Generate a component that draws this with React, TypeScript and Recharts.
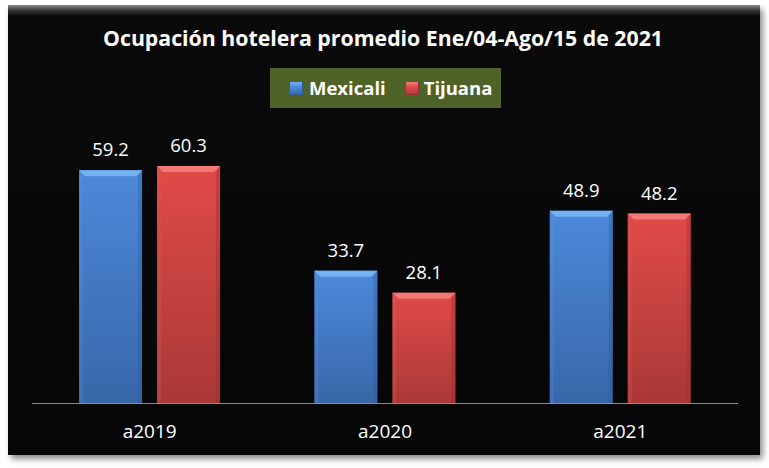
import React from 'react';
import { BarChart, Bar, XAxis, YAxis, Legend, LabelList, Customized } from 'recharts';

const categories = ['a2019', 'a2020', 'a2021'];
const mexicali = [59.2, 33.7, 48.9];
const tijuana = [60.3, 28.1, 48.2];
const seriesNames = ['Mexicali', 'Tijuana'];
const titleText = 'Ocupación hotelera promedio Ene/04-Ago/15 de 2021';

const data = categories.map((c, i) => ({ name: c, Mexicali: mexicali[i], Tijuana: tijuana[i] }));

const palette: Record<string, { top: string; bottom: string; bevel: string; left: string; right: string }> = {
  Mexicali: { top: '#4d89da', bottom: '#3767a8', bevel: '#74b2f4', left: '#5b98e4', right: '#2e5a96' },
  Tijuana: { top: '#e04a48', bottom: '#a93937', bevel: '#f27a76', left: '#e65c5a', right: '#8f2f2e' },
};

const makeShape = (key: string) => (props: any) => {
  const { x, y, width, height, index } = props;
  if (!width || !height) return null;
  const c = palette[key];
  const b = 6;
  const id = `g-${key}-${index}`;
  return (
    <g>
      <defs>
        <linearGradient id={id} x1="0" y1="0" x2="0" y2="1">
          <stop offset="0%" stopColor={c.top} />
          <stop offset="100%" stopColor={c.bottom} />
        </linearGradient>
      </defs>
      <rect x={x} y={y} width={width} height={height} fill={`url(#${id})`} />
      <polygon points={`${x},${y} ${x + 4},${y + b} ${x + 4},${y + height} ${x},${y + height}`} fill={c.left} opacity={0.25} />
      <polygon points={`${x + width},${y} ${x + width - 4},${y + b} ${x + width - 4},${y + height} ${x + width},${y + height}`} fill={c.right} opacity={0.35} />
      <polygon points={`${x},${y} ${x + width},${y} ${x + width - b},${y + b} ${x + b},${y + b}`} fill={c.bevel} />
    </g>
  );
};

const valueLabel = (props: any) => {
  const { x, y, width, value } = props;
  return (
    <text x={Number(x) + Number(width) / 2} y={Number(y) - 14} fill="#ffffff" fontSize={18.5} textAnchor="middle" fontFamily="'Open Sans', sans-serif">
      {Number(value).toFixed(1)}
    </text>
  );
};

const catTick = (props: any) => {
  const { x, y, payload } = props;
  return (
    <text x={x} y={y + 34} fill="#ffffff" fontSize={19} textAnchor="middle" fontFamily="'Open Sans', sans-serif">
      {payload.value}
    </text>
  );
};

const legendContent = (props: any) => {
  const items = props.payload || [];
  return (
    <div style={{ width: 231, height: 40, background: '#4f6228', display: 'flex', alignItems: 'center', paddingLeft: 20, boxSizing: 'border-box' }}>
      {items.map((it: any, i: number) => {
        const c = palette[it.value];
        return (
          <div key={it.value} style={{ display: 'flex', alignItems: 'center', marginLeft: i === 0 ? 0 : 20 }}>
            <div style={{ width: 13, height: 13, background: `linear-gradient(${c.bevel} 0%, ${c.top} 40%, ${c.bottom} 100%)`, boxShadow: `inset -1px -1px 0 ${c.right}` }} />
            <span style={{ marginLeft: i === 0 ? 6 : 5, color: '#ffffff', fontFamily: "'Open Sans', sans-serif", fontWeight: 700, fontSize: 18.5, lineHeight: '20px' }}>
              {it.value}
            </span>
          </div>
        );
      })}
    </div>
  );
};

const Title = () => (
  <text x={383} y={46} fill="#ffffff" fontSize={22} fontWeight={700} textAnchor="middle" fontFamily="'Open Sans', sans-serif" textLength={560} lengthAdjust="spacingAndGlyphs">
    {titleText}
  </text>
);

export default function App() {
  return (
    <div style={{ position: 'absolute', left: 0, top: 0, width: 769, height: 468, background: '#ffffff' }}>
      <div
        style={{
          position: 'absolute',
          left: 8,
          top: 5,
          width: 752,
          height: 450,
          background: 'linear-gradient(to bottom, #8a8a8a 0px, #3a3a3a 5px, #0a0a0a 11px, #060606 100%)',
          boxShadow: '3px 4px 6px rgba(0,0,0,0.45)',
        }}
      />
      <div style={{ position: 'absolute', left: 0, top: 0 }}>
        <BarChart
          width={769}
          height={468}
          data={data}
          margin={{ top: 127.7, right: 31, bottom: 24.5, left: 32 }}
          barCategoryGap="20%"
          barGap={15}
        >
          <XAxis
            dataKey="name"
            height={40}
            axisLine={{ stroke: '#8c8c8c', strokeWidth: 1 }}
            tickLine={false}
            tickSize={0}
            tickMargin={0}
            tick={catTick}
            interval={0}
          />
          <YAxis hide domain={[0, 70]} />
          <Legend layout="horizontal" verticalAlign="middle" align="center" content={legendContent} wrapperStyle={{ left: 270, top: 68, width: 231, height: 40 }} />
          {seriesNames.map((s) => (
            <Bar key={s} dataKey={s} name={s} fill={palette[s].top} isAnimationActive={false} shape={makeShape(s)}>
              <LabelList dataKey={s} content={valueLabel} />
            </Bar>
          ))}
          <Customized component={Title} />
        </BarChart>
      </div>
    </div>
  );
}
